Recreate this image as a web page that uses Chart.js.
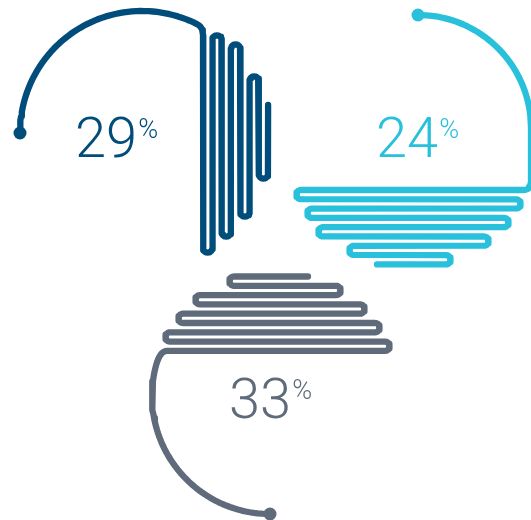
<!DOCTYPE html>
<html>
<head>
<meta charset="utf-8">
<script src="https://cdn.jsdelivr.net/npm/chart.js@4.4.1/dist/chart.umd.min.js"></script>
<style>
  html, body { margin: 0; padding: 0; background: #fff; }
  #wrap { width: 531px; height: 520px; position: relative; }
</style>
</head>
<body>
<div id="wrap"><canvas id="chart"></canvas></div>
<script>
// share shown inside each ring
const shares = [29, 24, 33];
const colors = ['#004c7a', '#29c0dc', '#5f6b7a'];

// where each run of the folded line stops (blue: y values, cyan / gray: x values)
const blueTurns = [248, 40, 232, 49, 212, 81, 174, 105];
const cyanTurns = [301, 516, 312, 504, 323, 484, 354, 446, 377];
const grayTurns = [308, 234, 336, 200, 360, 183, 375, 170, 385];

const PITCH = 9.3;   // distance between two runs
const STROKE = 6.3;

// ---- geometry helpers ----
function arc(cx, cy, r, a0, a1) {
    const pts = [];
    const n = Math.ceil(Math.abs(a1 - a0) / 2);
    for (let i = 0; i <= n; i++) {
        const a = (a0 + (a1 - a0) * i / n) * Math.PI / 180;
        pts.push({ x: cx + r * Math.cos(a), y: cy + r * Math.sin(a) });
    }
    return pts;
}

function corner(pts, p0, c, p1) {
    for (let i = 0; i <= 8; i++) {
        const t = i / 8, u = 1 - t;
        pts.push({
            x: u * u * p0.x + 2 * u * t * c.x + t * t * p1.x,
            y: u * u * p0.y + 2 * u * t * c.y + t * t * p1.y
        });
    }
}

// U-turn between two horizontal runs, bulging left (dir -1) or right (dir 1)
function turnH(pts, x, y0, y1, dir) {
    const r = (y1 - y0) / 2, cy = y0 + r;
    for (let i = 1; i < 12; i++) {
        const t = Math.PI * i / 12;
        pts.push({ x: x + dir * r * Math.sin(t), y: cy - r * Math.cos(t) });
    }
}

// U-turn between two vertical runs, bulging down (dir 1) or up (dir -1)
function turnV(pts, y, x0, x1, dir) {
    const r = (x1 - x0) / 2, cx = x0 + r;
    for (let i = 1; i < 12; i++) {
        const t = Math.PI * i / 12;
        pts.push({ x: cx - r * Math.cos(t), y: y + dir * r * Math.sin(t) });
    }
}

// ---- blue: ring from the left dot, then folds going right ----
const bluePath = arc(142, 133, 122, 180, 297);
{
    const last = bluePath[bluePath.length - 1];
    const x0 = 203;
    corner(bluePath, last, { x: x0, y: last.y + 3 }, { x: x0, y: last.y + 11 });
    blueTurns.forEach((y, i) => {
        const x = x0 + i * PITCH;
        bluePath.push({ x: x, y: y });
        if (i < blueTurns.length - 1) turnV(bluePath, y, x, x + PITCH, i % 2 === 0 ? 1 : -1);
    });
}

// ---- cyan: ring from the top dot, then folds going down ----
const cyanPath = arc(418, 128, 113, 270, 360);
{
    const y0 = 190;
    cyanPath.push({ x: 531, y: y0 - 8 });
    corner(cyanPath, { x: 531, y: y0 - 8 }, { x: 531, y: y0 }, { x: 523, y: y0 });
    cyanTurns.forEach((x, i) => {
        const y = y0 + i * PITCH;
        cyanPath.push({ x: x, y: y });
        if (i < cyanTurns.length - 1) turnH(cyanPath, x, y, y + PITCH, i % 2 === 0 ? -1 : 1);
    });
}

// ---- gray: folds from the top, then ring down to the bottom dot ----
const grayPath = [];
const grayRing = arc(270, 396, 118, 195, 90);
{
    const y0 = 276.5;
    grayTurns.forEach((x, i) => {
        const y = y0 + i * PITCH;
        if (i > 0) {
            grayPath.push({ x: x, y: y - PITCH });
            turnH(grayPath, x, y - PITCH, y, i % 2 === 1 ? -1 : 1);
        }
        grayPath.push({ x: x, y: y });
    });
    const yl = y0 + (grayTurns.length - 1) * PITCH;
    const s = grayRing[0];
    const cx = s.x + (s.y - yl) * 0.27;
    grayPath.push({ x: cx + 7, y: yl });
    corner(grayPath, { x: cx + 7, y: yl }, { x: cx, y: yl }, s);
    grayRing.forEach(p => grayPath.push(p));
}

const paths = [bluePath, cyanPath, grayPath];
const dots = [bluePath[0], cyanPath[0], grayPath[grayPath.length - 1]];

// ---- labels in the middle of each ring ----
const labelPos = [{ x: 75, y: 157 }, { x: 376, y: 157 }, { x: 229, y: 418 }];
const labelPlugin = {
    id: 'shareLabels',
    afterDatasetsDraw(chart) {
        const ctx = chart.ctx;
        ctx.save();
        ctx.textAlign = 'left';
        ctx.textBaseline = 'alphabetic';
        shares.forEach((v, i) => {
            const p = labelPos[i];
            ctx.fillStyle = colors[i];
            ctx.font = '300 56px Roboto, "Open Sans", sans-serif';
            const txt = String(v);
            ctx.fillText(txt, p.x, p.y);
            const w = ctx.measureText(txt).width;
            ctx.font = '300 27px Roboto, "Open Sans", sans-serif';
            ctx.fillText('%', p.x + w + 1, p.y - 19);
        });
        ctx.restore();
    }
};

const datasets = paths.map((pts, i) => ({
    data: pts,
    showLine: true,
    borderColor: colors[i],
    borderWidth: STROKE,
    borderCapStyle: 'round',
    borderJoinStyle: 'round',
    pointRadius: 0,
    tension: 0,
    clip: false
}));
datasets.push({
    data: dots,
    showLine: false,
    pointRadius: 6.5,
    pointBorderWidth: 0,
    pointBackgroundColor: colors,
    clip: false
});

new Chart(document.getElementById('chart'), {
    type: 'scatter',
    data: { datasets: datasets },
    options: {
        responsive: true,
        maintainAspectRatio: false,
        animation: false,
        events: [],
        layout: { padding: 0, autoPadding: false },
        plugins: {
            legend: { display: false },
            tooltip: { enabled: false }
        },
        scales: {
            x: { type: 'linear', min: 0, max: 531, display: false },
            y: { type: 'linear', min: 0, max: 520, reverse: true, display: false }
        }
    },
    plugins: [labelPlugin]
});
</script>
</body>
</html>
